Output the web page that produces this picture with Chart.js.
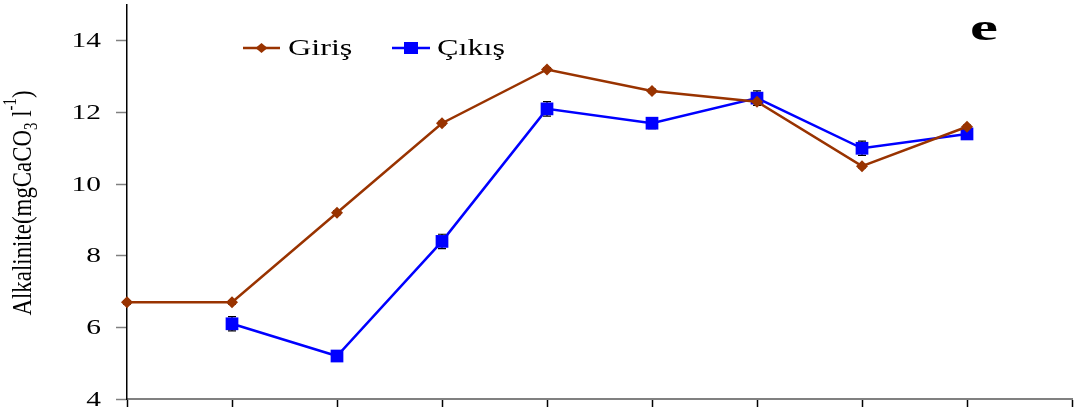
<!DOCTYPE html>
<html>
<head>
<meta charset="utf-8">
<script src="https://cdn.jsdelivr.net/npm/chart.js@4/dist/chart.umd.min.js"></script>
<style>
  html, body { margin: 0; padding: 0; background: #ffffff; }
  #wrap { width: 1075px; height: 414px; position: relative; }
</style>
</head>
<body>
<div id="wrap"><canvas id="alkChart"></canvas></div>
<script>
// Sampling stations (unlabelled on the axis), last slot left empty
const stations = ['1', '2', '3', '4', '5', '6', '7', '8', '9', ''];

// Alkalinity, mg CaCO3 l-1
const girisValues = [6.7, 6.7, 9.2, 11.7, 13.2, 12.6, 12.3, 10.5, 11.6, null];
const cikisValues = [null, 6.1, 5.2, 8.4, 12.1, 11.7, 12.4, 11.0, 11.4, null];

// Standard errors
const girisErrors = [0.05, 0.05, 0.05, 0.05, 0.05, 0.05, 0.05, 0.05, 0.05, null];
const cikisErrors = [null, 0.2, 0.15, 0.2, 0.2, 0.15, 0.2, 0.2, 0.05, null];

const yTicks = [4, 6, 8, 10, 12, 14];

const SERIF = '"Liberation Serif", "Times New Roman", serif';
const GIRIS_COLOR = '#993300';
const CIKIS_COLOR = '#0000ff';
// text in this figure is set wide
const STRETCH = 1.4;

function wideText(ctx, text, x, y, align, font, sx) {
    ctx.save();
    ctx.font = font;
    ctx.textBaseline = 'middle';
    ctx.textAlign = 'left';
    const w = ctx.measureText(text).width * sx;
    let left = x;
    if (align === 'right') left = x - w;
    else if (align === 'center') left = x - w / 2;
    ctx.translate(left, y);
    ctx.scale(sx, 1);
    ctx.fillText(text, 0, 0);
    ctx.restore();
}

// Error bars, drawn under the markers
const errorBars = {
    id: 'errorBars',
    beforeDatasetsDraw(chart) {
        const { ctx, scales: { x, y } } = chart;
        chart.data.datasets.forEach((ds) => {
            const errs = ds.errors || [];
            ds.data.forEach((v, i) => {
                const e = errs[i];
                if (v == null || e == null) return;
                const px = x.getPixelForValue(i);
                const top = y.getPixelForValue(v + e);
                const bot = y.getPixelForValue(v - e);
                ctx.save();
                ctx.strokeStyle = '#000000';
                ctx.lineWidth = 1.2;
                ctx.beginPath();
                ctx.moveTo(px, top); ctx.lineTo(px, bot);
                ctx.moveTo(px - 4, top); ctx.lineTo(px + 4, top);
                ctx.moveTo(px - 4, bot); ctx.lineTo(px + 4, bot);
                ctx.stroke();
                ctx.restore();
            });
        });
    }
};

// Tick labels, legend, panel letter and the rotated y title
const decorations = {
    id: 'decorations',
    afterDraw(chart) {
        const { ctx, scales: { y } } = chart;
        ctx.save();
        ctx.fillStyle = '#000000';

        // y tick labels
        yTicks.forEach(v => {
            wideText(ctx, String(v), 101, y.getPixelForValue(v) + 1, 'right', '21px ' + SERIF, STRETCH);
        });

        // legend entries
        const items = [
            { label: 'Giriş', color: GIRIS_COLOR, x0: 243, x1: 280, tx: 288, style: 'diamond' },
            { label: 'Çıkış', color: CIKIS_COLOR, x0: 392, x1: 430, tx: 437, style: 'square' }
        ];
        const ly = 48;
        items.forEach(it => {
            ctx.strokeStyle = it.color;
            ctx.lineWidth = 2.5;
            ctx.beginPath();
            ctx.moveTo(it.x0, ly); ctx.lineTo(it.x1, ly);
            ctx.stroke();
            const cx = (it.x0 + it.x1) / 2;
            ctx.fillStyle = it.color;
            ctx.beginPath();
            if (it.style === 'diamond') {
                ctx.moveTo(cx - 6, ly); ctx.lineTo(cx, ly - 5);
                ctx.lineTo(cx + 6, ly); ctx.lineTo(cx, ly + 5);
                ctx.closePath();
            } else {
                ctx.rect(cx - 7, ly - 6, 14, 12);
            }
            ctx.fill();
            ctx.fillStyle = '#000000';
            wideText(ctx, it.label, it.tx, ly + 1, 'left', '23px ' + SERIF, STRETCH);
        });

        // panel letter
        ctx.fillStyle = '#000000';
        wideText(ctx, 'e', 984, 30, 'center', 'bold 37px ' + SERIF, 1.7);

        // y title: Alkalinite (mg CaCO3 l-1), tall and condensed once rotated
        ctx.translate(24, 203);
        ctx.rotate(-Math.PI / 2);
        const parts = [
            { t: 'Alkalinite(mgCaCO', size: 20, dy: 0 },
            { t: '3', size: 13, dy: 6 },
            { t: ' l', size: 20, dy: 0 },
            { t: '-1', size: 13, dy: -9 },
            { t: ')', size: 20, dy: 0 }
        ];
        let total = 0;
        parts.forEach(p => { ctx.font = p.size + 'px ' + SERIF; p.w = ctx.measureText(p.t).width; total += p.w; });
        const target = 225;
        ctx.scale(target / total, STRETCH);
        let cx = -total / 2;
        ctx.textAlign = 'left';
        ctx.textBaseline = 'middle';
        parts.forEach(p => {
            ctx.font = p.size + 'px ' + SERIF;
            ctx.fillText(p.t, cx, p.dy);
            cx += p.w;
        });
        ctx.restore();
    }
};

new Chart(document.getElementById('alkChart'), {
    type: 'line',
    data: {
        labels: stations,
        datasets: [
            {
                label: 'Giriş',
                data: girisValues,
                errors: girisErrors,
                borderColor: GIRIS_COLOR,
                backgroundColor: GIRIS_COLOR,
                borderWidth: 2.5,
                pointStyle: 'rectRot',
                pointRadius: 6,
                pointBorderWidth: 0,
                tension: 0,
                spanGaps: false
            },
            {
                label: 'Çıkış',
                data: cikisValues,
                errors: cikisErrors,
                borderColor: CIKIS_COLOR,
                backgroundColor: CIKIS_COLOR,
                borderWidth: 2.5,
                pointStyle: 'rect',
                pointRadius: 9,
                pointBorderWidth: 0,
                tension: 0,
                spanGaps: false
            }
        ]
    },
    options: {
        responsive: true,
        maintainAspectRatio: false,
        animation: false,
        layout: { autoPadding: false, padding: { top: 5, right: 3, left: 0, bottom: 0 } },
        plugins: {
            legend: { display: false },
            tooltip: { enabled: false }
        },
        scales: {
            x: {
                type: 'category',
                offset: false,
                grid: {
                    drawOnChartArea: false,
                    drawTicks: true,
                    tickLength: 8,
                    tickColor: '#000000',
                    tickWidth: 1.5
                },
                border: { color: '#808080', width: 2 },
                ticks: { display: false },
                afterFit: s => { s.height = 15; s.paddingLeft = 0; s.paddingRight = 0; }
            },
            y: {
                min: 4,
                max: 15,
                grid: {
                    drawOnChartArea: false,
                    drawTicks: true,
                    tickLength: 11,
                    tickColor: '#808080',
                    tickWidth: 1.5
                },
                border: { color: '#000000', width: 1.5 },
                afterBuildTicks: axis => {
                    axis.ticks = yTicks.map(v => ({ value: v }));
                },
                ticks: { display: false },
                afterFit: s => { s.width = 127; s.paddingTop = 0; s.paddingBottom = 0; }
            }
        }
    },
    plugins: [errorBars, decorations]
});
</script>
</body>
</html>
